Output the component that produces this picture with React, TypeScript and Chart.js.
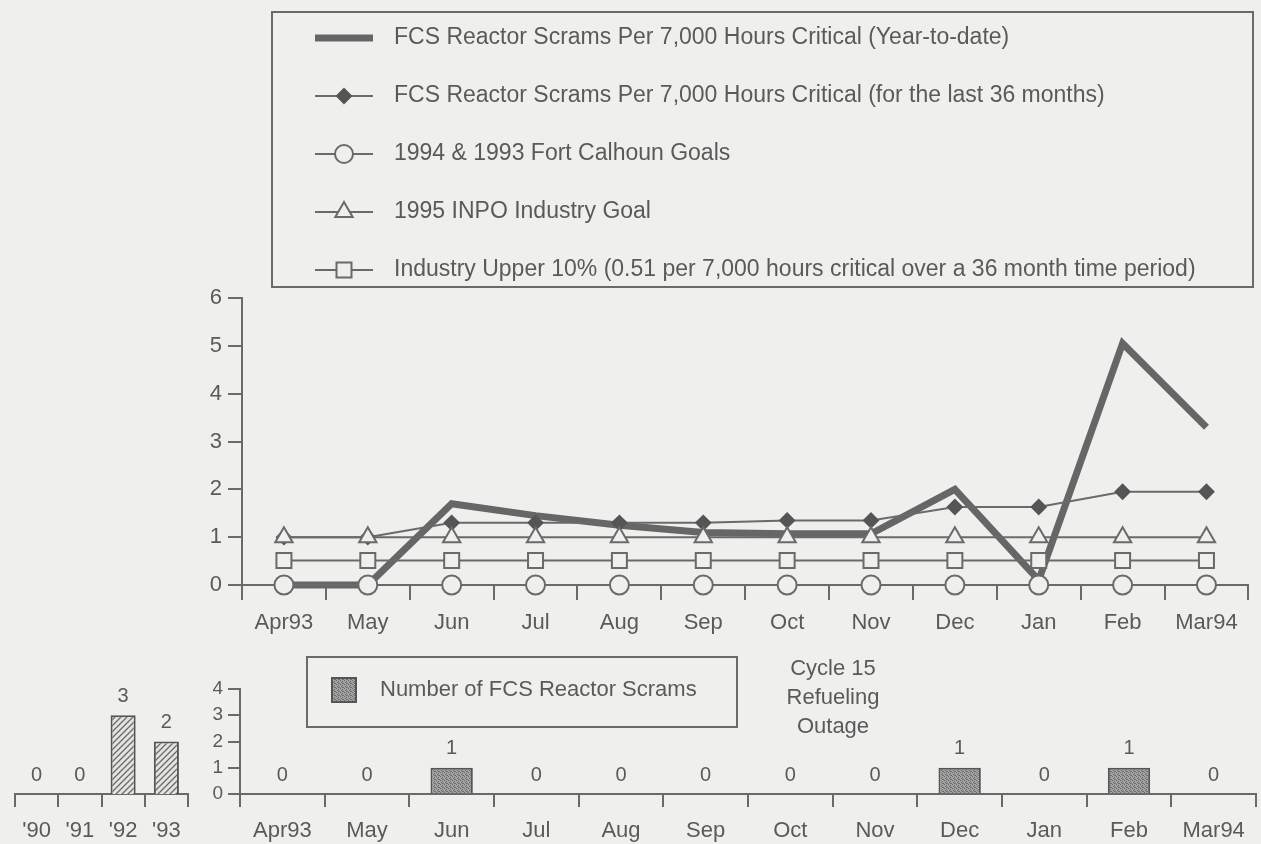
import React, { useEffect, useRef } from "react";
import { Chart, registerables } from "chart.js";

Chart.register(...registerables);

// ---------- data ----------
const months = ["Apr93", "May", "Jun", "Jul", "Aug", "Sep", "Oct", "Nov", "Dec", "Jan", "Feb", "Mar94"];
const ytdRate = [0, 0, 1.7, 1.45, 1.25, 1.1, 1.07, 1.07, 2.0, 0.1, 5.05, 3.3];
const rate36 = [1.0, 1.0, 1.3, 1.3, 1.3, 1.3, 1.35, 1.35, 1.63, 1.63, 1.95, 1.95];
const fcsGoal = [0, 0, 0, 0, 0, 0, 0, 0, 0, 0, 0, 0];
const inpoGoal = [1, 1, 1, 1, 1, 1, 1, 1, 1, 1, 1, 1];
const upper10 = [0.51, 0.51, 0.51, 0.51, 0.51, 0.51, 0.51, 0.51, 0.51, 0.51, 0.51, 0.51];
const lineYMax = 6;

const years = ["'90", "'91", "'92", "'93"];
const yearScrams = [0, 0, 3, 2];
const monthScrams = [0, 0, 1, 0, 0, 0, 0, 0, 1, 0, 1, 0];
const barYMax = 4;

const legendLabels = [
  "FCS Reactor Scrams Per 7,000 Hours Critical (Year-to-date)",
  "FCS Reactor Scrams Per 7,000 Hours Critical (for the last 36 months)",
  "1994 & 1993 Fort Calhoun Goals",
  "1995 INPO Industry Goal",
  "Industry Upper 10% (0.51 per 7,000 hours critical over a 36 month time period)",
];
const barLegendLabel = "Number of FCS Reactor Scrams";
const outageNote = ["Cycle 15", "Refueling", "Outage"];

// ---------- style ----------
const BG = "#efefed";
const INK = "#5a5a5a";
const AXIS = "#6a6a6a";
const THICK = "#666666";
const FONT = "'Liberation Sans', Arial, Helvetica, sans-serif";

function drawMarker(ctx: CanvasRenderingContext2D, kind: string, x: number, y: number) {
  ctx.save();
  ctx.lineWidth = 2;
  ctx.strokeStyle = AXIS;
  ctx.fillStyle = BG;
  ctx.beginPath();
  if (kind === "circle") {
    ctx.arc(x, y, 9, 0, Math.PI * 2);
  } else if (kind === "triangle") {
    const r = 10;
    ctx.moveTo(x, y - r);
    ctx.lineTo(x + r * 0.866, y + r / 2);
    ctx.lineTo(x - r * 0.866, y + r / 2);
    ctx.closePath();
  } else if (kind === "rect") {
    ctx.rect(x - 7.5, y - 7.5, 15, 15);
  } else if (kind === "diamond") {
    ctx.fillStyle = "#555";
    ctx.strokeStyle = "#555";
    ctx.moveTo(x, y - 7);
    ctx.lineTo(x + 7, y);
    ctx.lineTo(x, y + 7);
    ctx.lineTo(x - 7, y);
    ctx.closePath();
  }
  ctx.fill();
  ctx.stroke();
  ctx.restore();
}

function stipplePattern(): CanvasPattern | string {
  const c = document.createElement("canvas");
  c.width = 4;
  c.height = 4;
  const g = c.getContext("2d");
  if (!g) return "#8a8a8a";
  g.fillStyle = "#a2a2a2";
  g.fillRect(0, 0, 4, 4);
  g.fillStyle = "#6c6c6c";
  [[0, 0], [2, 1], [1, 2], [3, 3], [2, 3]].forEach(([x, y]) => g.fillRect(x, y, 1, 1));
  return g.createPattern(c, "repeat") || "#8a8a8a";
}

function hatchPattern(): CanvasPattern | string {
  const c = document.createElement("canvas");
  c.width = 6;
  c.height = 6;
  const g = c.getContext("2d");
  if (!g) return "#ddd";
  g.fillStyle = "#e4e4e2";
  g.fillRect(0, 0, 6, 6);
  g.strokeStyle = "#6a6a6a";
  g.lineWidth = 1.3;
  g.beginPath();
  g.moveTo(0, 6);
  g.lineTo(6, 0);
  g.moveTo(-1, 1);
  g.lineTo(1, -1);
  g.moveTo(5, 7);
  g.lineTo(7, 5);
  g.stroke();
  return g.createPattern(c, "repeat") || "#ddd";
}

const valueLabelPlugin = {
  id: "valueLabels",
  afterDatasetsDraw(chart: any) {
    const ctx = chart.ctx;
    const ds = chart.data.datasets[0];
    const meta = chart.getDatasetMeta(0);
    ctx.save();
    ctx.fillStyle = INK;
    ctx.font = `20px ${FONT}`;
    ctx.textAlign = "center";
    ctx.textBaseline = "middle";
    meta.data.forEach((el: any, i: number) => {
      ctx.fillText(String(ds.data[i]), el.x, el.y - 19);
    });
    ctx.restore();
  },
};

export default function App() {
  const lineRef = useRef<HTMLCanvasElement>(null);
  const barRef = useRef<HTMLCanvasElement>(null);
  const yearRef = useRef<HTMLCanvasElement>(null);

  useEffect(() => {
    const charts: Chart[] = [];
    const tickFont = { family: FONT, size: 22 };

    // ---------- line chart ----------
    const lineLegendPlugin = {
      id: "lineLegend",
      afterDraw(chart: any) {
        const ctx = chart.ctx as CanvasRenderingContext2D;
        ctx.save();
        ctx.strokeStyle = AXIS;
        ctx.lineWidth = 2;
        ctx.strokeRect(272, 12, 981, 275);
        const kinds = ["thick", "diamond", "circle", "triangle", "rect"];
        kinds.forEach((k, i) => {
          const y = 38 + i * 58;
          ctx.beginPath();
          if (k === "thick") {
            ctx.strokeStyle = THICK;
            ctx.lineWidth = 7;
            ctx.moveTo(315, y);
            ctx.lineTo(373, y);
            ctx.stroke();
          } else {
            ctx.strokeStyle = AXIS;
            ctx.lineWidth = 2;
            ctx.moveTo(315, y);
            ctx.lineTo(373, y);
            ctx.stroke();
            drawMarker(ctx, k, 344, y);
          }
          ctx.fillStyle = INK;
          ctx.font = `23px ${FONT}`;
          ctx.textAlign = "left";
          ctx.textBaseline = "middle";
          ctx.fillText(legendLabels[i], 394, y);
        });
        ctx.restore();
      },
    };

    if (lineRef.current) {
      charts.push(
        new Chart(lineRef.current, {
          type: "line",
          data: {
            labels: months,
            datasets: [
              {
                label: legendLabels[0],
                data: ytdRate,
                borderColor: THICK,
                borderWidth: 7,
                pointRadius: 0,
                order: 5,
                clip: false,
                borderJoinStyle: "miter",
              },
              {
                label: legendLabels[1],
                data: rate36,
                borderColor: AXIS,
                borderWidth: 2,
                pointStyle: "rectRot",
                pointRadius: 7,
                pointBackgroundColor: "#555",
                pointBorderColor: "#555",
                order: 4,
                clip: false,
              },
              {
                label: legendLabels[3],
                data: inpoGoal,
                borderColor: AXIS,
                borderWidth: 2,
                pointStyle: "triangle",
                pointRadius: 10,
                pointBorderWidth: 2,
                pointBackgroundColor: BG,
                pointBorderColor: AXIS,
                order: 3,
                clip: false,
              },
              {
                label: legendLabels[4],
                data: upper10,
                borderColor: AXIS,
                borderWidth: 2,
                pointStyle: "rect",
                pointRadius: 10.6,
                pointBorderWidth: 2,
                pointBackgroundColor: BG,
                pointBorderColor: AXIS,
                order: 2,
                clip: false,
              },
              {
                label: legendLabels[2],
                data: fcsGoal,
                borderColor: AXIS,
                borderWidth: 2,
                pointStyle: "circle",
                pointRadius: 9.5,
                pointBorderWidth: 2,
                pointBackgroundColor: BG,
                pointBorderColor: AXIS,
                order: 1,
                clip: false,
              },
            ],
          },
          options: {
            responsive: false,
            animation: false,
            layout: { padding: { left: 0, top: 298, right: 3, bottom: 2 } },
            plugins: { legend: { display: false }, tooltip: { enabled: false } },
            scales: {
              x: {
                offset: true,
                grid: { offset: true, drawOnChartArea: false, tickLength: 15, color: AXIS, lineWidth: 2 },
                border: { color: AXIS, width: 2 },
                ticks: { color: INK, font: tickFont, padding: 10, maxRotation: 0, autoSkip: false },
                afterFit: (s: any) => {
                  s.height = 58;
                },
              },
              y: {
                min: 0,
                max: lineYMax,
                grid: { drawOnChartArea: false, tickLength: 14, color: AXIS, lineWidth: 2 },
                border: { color: AXIS, width: 2 },
                ticks: { stepSize: 1, color: INK, font: tickFont, padding: 6, autoSkip: false },
                afterFit: (s: any) => {
                  s.width = 242;
                },
              },
            },
          },
          plugins: [lineLegendPlugin],
        } as any)
      );
    }

    // ---------- monthly bar chart ----------
    const stipple = stipplePattern();
    const barLegendPlugin = {
      id: "barLegend",
      afterDraw(chart: any) {
        const ctx = chart.ctx as CanvasRenderingContext2D;
        ctx.save();
        ctx.strokeStyle = AXIS;
        ctx.lineWidth = 2;
        ctx.strokeRect(307, 17, 430, 70);
        ctx.fillStyle = stipple as any;
        ctx.fillRect(332, 38, 24, 24);
        ctx.strokeStyle = "#555";
        ctx.strokeRect(332, 38, 24, 24);
        ctx.fillStyle = INK;
        ctx.font = `22px ${FONT}`;
        ctx.textAlign = "left";
        ctx.textBaseline = "middle";
        ctx.fillText(barLegendLabel, 380, 50);
        ctx.textAlign = "center";
        outageNote.forEach((t, i) => ctx.fillText(t, 833, 29 + i * 29));
        ctx.restore();
      },
    };
    if (barRef.current) {
      charts.push(
        new Chart(barRef.current, {
          type: "bar",
          data: {
            labels: months,
            datasets: [
              {
                label: barLegendLabel,
                data: monthScrams,
                backgroundColor: stipple,
                borderColor: "#555",
                borderWidth: 2,
                barPercentage: 0.5,
                categoryPercentage: 1,
              },
            ],
          },
          options: {
            responsive: false,
            animation: false,
            layout: { padding: { left: 0, top: 49, right: 5, bottom: 0 } },
            plugins: { legend: { display: false }, tooltip: { enabled: false } },
            scales: {
              x: {
                grid: { offset: true, drawOnChartArea: false, tickLength: 13, color: AXIS, lineWidth: 2 },
                border: { color: AXIS, width: 2 },
                ticks: { color: INK, font: tickFont, padding: 11, maxRotation: 0, autoSkip: false },
                afterFit: (s: any) => {
                  s.height = 50;
                },
              },
              y: {
                min: 0,
                max: barYMax,
                grid: { drawOnChartArea: false, tickLength: 12, color: AXIS, lineWidth: 2 },
                border: { color: AXIS, width: 2 },
                ticks: { stepSize: 1, color: INK, font: { family: FONT, size: 19, lineHeight: 1 }, padding: 5, autoSkip: false },
                afterFit: (s: any) => {
                  s.width = 240;
                },
              },
            },
          },
          plugins: [valueLabelPlugin, barLegendPlugin],
        } as any)
      );
    }

    // ---------- yearly bar chart ----------
    if (yearRef.current) {
      charts.push(
        new Chart(yearRef.current, {
          type: "bar",
          data: {
            labels: years,
            datasets: [
              {
                label: "Scrams per year",
                data: yearScrams,
                backgroundColor: hatchPattern(),
                borderColor: "#555",
                borderWidth: 2,
                barPercentage: 0.58,
                categoryPercentage: 1,
              },
            ],
          },
          options: {
            responsive: false,
            animation: false,
            layout: { padding: { left: 15, top: 49, right: 12, bottom: 0 } },
            plugins: { legend: { display: false }, tooltip: { enabled: false } },
            scales: {
              x: {
                grid: { offset: true, drawOnChartArea: false, tickLength: 13, color: AXIS, lineWidth: 2 },
                border: { color: AXIS, width: 2 },
                ticks: { color: INK, font: tickFont, padding: 11, maxRotation: 0, autoSkip: false },
                afterFit: (s: any) => {
                  s.height = 50;
                },
              },
              y: { display: false, min: 0, max: barYMax },
            },
          },
          plugins: [valueLabelPlugin],
        } as any)
      );
    }

    return () => charts.forEach((c) => c.destroy());
  }, []);

  return (
    <div
      style={{
        position: "absolute",
        left: 0,
        top: 0,
        width: 1261,
        height: 844,
        background: BG,
        overflow: "hidden",
      }}
    >
      <canvas ref={lineRef} width={1261} height={645} style={{ position: "absolute", left: 0, top: 0 }} />
      <canvas ref={barRef} width={1261} height={204} style={{ position: "absolute", left: 0, top: 640 }} />
      <canvas ref={yearRef} width={200} height={204} style={{ position: "absolute", left: 0, top: 640 }} />
    </div>
  );
}
